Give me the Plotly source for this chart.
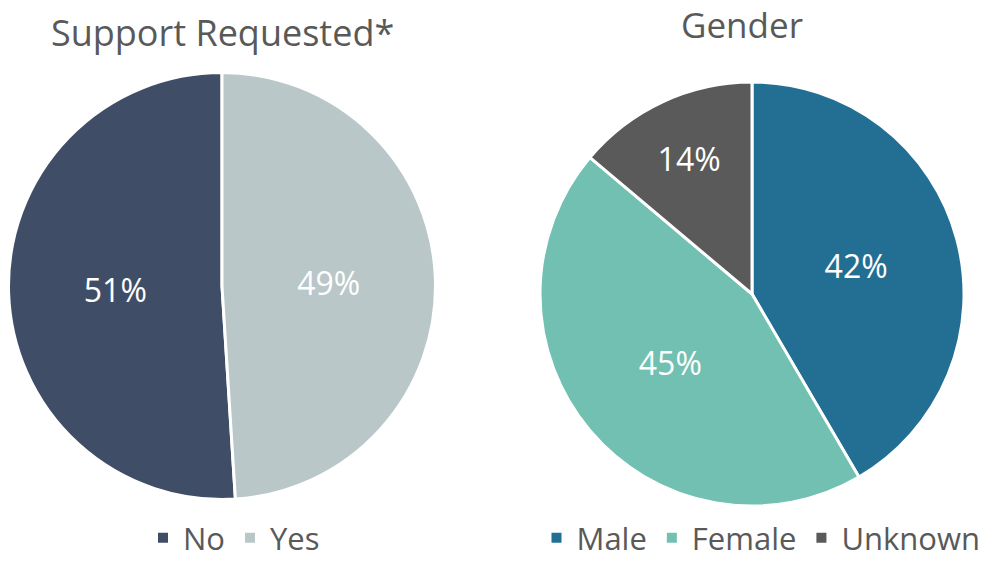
import plotly.graph_objects as go

support_labels = ["No", "Yes"]
support_values = [51, 49]
support_colors = ["#3F4E66", "#B9C7C8"]

gender_labels = ["Male", "Female", "Unknown"]
gender_values = [42, 45, 14]
gender_colors = ["#236F93", "#71C0B1", "#5A5A5A"]

W, H = 986, 565
def px(x): return min(1, max(0, x / W))
def py(y): return min(1, max(0, 1 - y / H))

def dom(cx, cy, s):
    return dict(x=[px(cx - s / 2), px(cx + s / 2)], y=[py(cy + s / 2), py(cy - s / 2)])

# "No" occupies the left half ending at 12 o'clock, drawn clockwise
support_rotation = -360 * support_values[0] / sum(support_values)

fig = go.Figure()
fig.add_trace(go.Pie(
    labels=support_labels, values=support_values, sort=False,
    direction="clockwise", rotation=support_rotation,
    marker=dict(colors=support_colors, line=dict(color="white", width=3)),
    textinfo="percent", texttemplate="%{percent:.0%}", textposition="inside",
    insidetextfont=dict(color="white", size=32, family="Open Sans"),
    domain=dom(222, 286, 427),
    legend="legend", hoverinfo="label+percent",
))
fig.add_trace(go.Pie(
    labels=gender_labels, values=gender_values, sort=False,
    direction="clockwise", rotation=0,
    marker=dict(colors=gender_colors, line=dict(color="white", width=3)),
    textinfo="percent", texttemplate="%{percent:.0%}", textposition="inside",
    insidetextfont=dict(color="white", size=32, family="Open Sans"),
    domain=dom(752, 294, 424),
    legend="legend2", hoverinfo="label+percent",
))

fig.update_layout(
    width=W, height=H, margin=dict(l=0, r=0, t=0, b=0, autoexpand=False),
    paper_bgcolor="white", plot_bgcolor="white",
    font=dict(family="Open Sans", color="#595959"),
    legend=dict(orientation="h", x=px(234), xanchor="center", y=py(571), yanchor="bottom",
                font=dict(size=31, color="#595959"), itemsizing="constant"),
    legend2=dict(orientation="h", x=px(761), xanchor="center", y=0, yanchor="bottom",
                 font=dict(size=31, color="#595959"), itemsizing="constant"),
    annotations=[
        dict(text="Support Requested*", x=px(222), y=py(32), xref="paper", yref="paper",
             showarrow=False, font=dict(size=36, color="#595959"), xanchor="center", yanchor="middle"),
        dict(text="Gender", x=px(742), y=py(25), xref="paper", yref="paper",
             showarrow=False, font=dict(size=35, color="#595959"), xanchor="center", yanchor="middle"),
    ],
)

fig.write_html("out.html", config={"displayModeBar": False},
               post_script="document.body.style.margin='0';")
